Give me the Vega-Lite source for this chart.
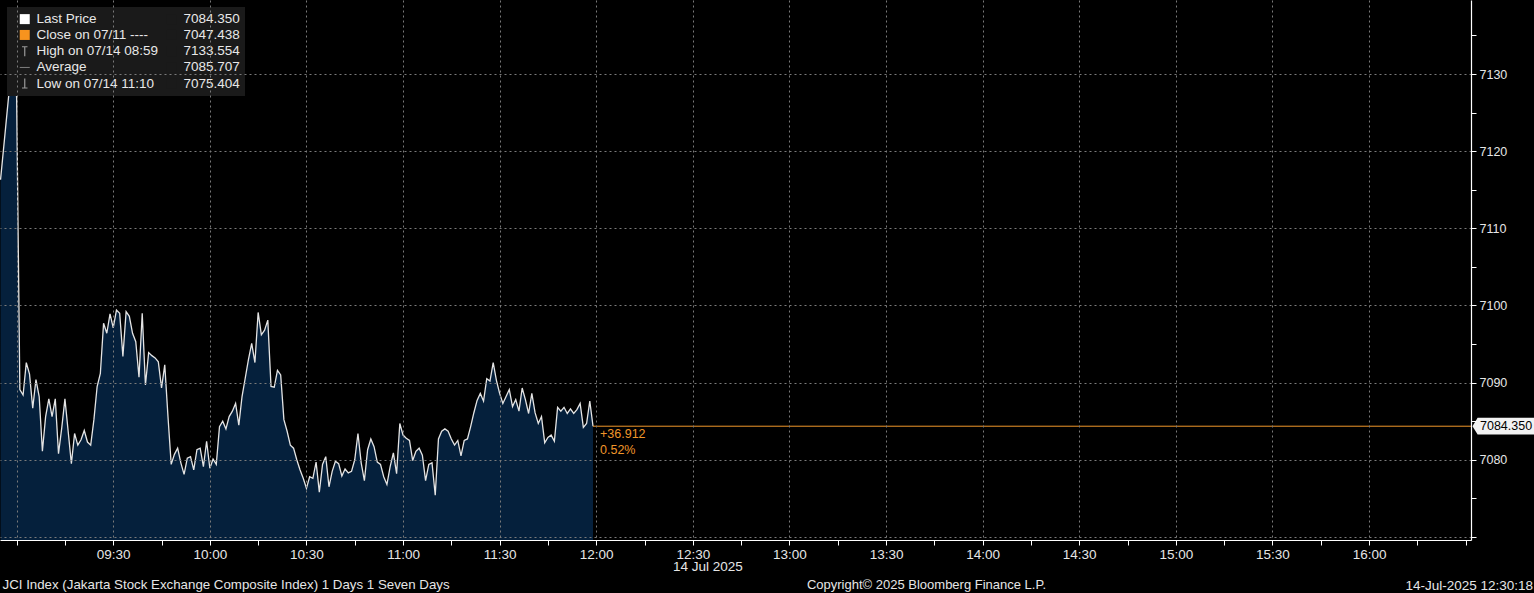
{
  "$schema": "https://vega.github.io/schema/vega-lite/v6.json",
  "width": 1471,
  "height": 540,
  "autosize": {"type": "none"},
  "padding": {"left": 0, "top": 0, "right": 63, "bottom": 53},
  "background": "#000000",
  "config": {"view": {"stroke": null}, "font": "Liberation Sans"},
  "title": {"text": "14-Jul-2025 12:30:18", "orient": "bottom", "anchor": "end", "frame": "group", "align": "right", "baseline": "top", "offset": 0, "dx": 62, "dy": -12, "color": "#e6e6e6", "fontSize": 13.5, "fontWeight": "normal", "font": "Liberation Sans"},
  "datasets": {"px": [
    {"t": "2025-07-14T08:55", "v": 7116.3}, {"t": "2025-07-14T08:56", "v": 7120.6}, {"t": "2025-07-14T08:57", "v": 7124.9}, {"t": "2025-07-14T08:58", "v": 7129.2}, {"t": "2025-07-14T08:59", "v": 7133.554}, {"t": "2025-07-14T09:00", "v": 7126.9},
    {"t": "2025-07-14T09:01", "v": 7089.1}, {"t": "2025-07-14T09:02", "v": 7088.4}, {"t": "2025-07-14T09:03", "v": 7092.6}, {"t": "2025-07-14T09:04", "v": 7091.1}, {"t": "2025-07-14T09:05", "v": 7086.7}, {"t": "2025-07-14T09:06", "v": 7090.4}, {"t": "2025-07-14T09:07", "v": 7088.2}, {"t": "2025-07-14T09:08", "v": 7081.1}, {"t": "2025-07-14T09:09", "v": 7085.6}, {"t": "2025-07-14T09:10", "v": 7087.9},
    {"t": "2025-07-14T09:11", "v": 7085.6}, {"t": "2025-07-14T09:12", "v": 7087.9}, {"t": "2025-07-14T09:13", "v": 7080.8}, {"t": "2025-07-14T09:14", "v": 7084.1}, {"t": "2025-07-14T09:15", "v": 7087.9}, {"t": "2025-07-14T09:16", "v": 7083.7}, {"t": "2025-07-14T09:17", "v": 7079.5}, {"t": "2025-07-14T09:18", "v": 7083.4}, {"t": "2025-07-14T09:19", "v": 7081.9}, {"t": "2025-07-14T09:20", "v": 7082.6},
    {"t": "2025-07-14T09:21", "v": 7083.8}, {"t": "2025-07-14T09:22", "v": 7082.3}, {"t": "2025-07-14T09:23", "v": 7081.9}, {"t": "2025-07-14T09:24", "v": 7085.2}, {"t": "2025-07-14T09:25", "v": 7089.5}, {"t": "2025-07-14T09:26", "v": 7091.2}, {"t": "2025-07-14T09:27", "v": 7097.7}, {"t": "2025-07-14T09:28", "v": 7096.4}, {"t": "2025-07-14T09:29", "v": 7098.9}, {"t": "2025-07-14T09:30", "v": 7097.1},
    {"t": "2025-07-14T09:31", "v": 7099.4}, {"t": "2025-07-14T09:32", "v": 7099.0}, {"t": "2025-07-14T09:33", "v": 7093.4}, {"t": "2025-07-14T09:34", "v": 7099.2}, {"t": "2025-07-14T09:35", "v": 7098.6}, {"t": "2025-07-14T09:36", "v": 7096.4}, {"t": "2025-07-14T09:37", "v": 7095.3}, {"t": "2025-07-14T09:38", "v": 7090.7}, {"t": "2025-07-14T09:39", "v": 7099.0}, {"t": "2025-07-14T09:40", "v": 7089.7},
    {"t": "2025-07-14T09:41", "v": 7093.9}, {"t": "2025-07-14T09:42", "v": 7093.5}, {"t": "2025-07-14T09:43", "v": 7093.2}, {"t": "2025-07-14T09:44", "v": 7092.7}, {"t": "2025-07-14T09:45", "v": 7089.3}, {"t": "2025-07-14T09:46", "v": 7092.3}, {"t": "2025-07-14T09:47", "v": 7085.6}, {"t": "2025-07-14T09:48", "v": 7079.4}, {"t": "2025-07-14T09:49", "v": 7080.7}, {"t": "2025-07-14T09:50", "v": 7081.5},
    {"t": "2025-07-14T09:51", "v": 7079.6}, {"t": "2025-07-14T09:52", "v": 7078.1}, {"t": "2025-07-14T09:53", "v": 7080.2}, {"t": "2025-07-14T09:54", "v": 7080.4}, {"t": "2025-07-14T09:55", "v": 7078.7}, {"t": "2025-07-14T09:56", "v": 7081.3}, {"t": "2025-07-14T09:57", "v": 7081.5}, {"t": "2025-07-14T09:58", "v": 7079.1}, {"t": "2025-07-14T09:59", "v": 7082.4}, {"t": "2025-07-14T10:00", "v": 7078.9},
    {"t": "2025-07-14T10:01", "v": 7080.1}, {"t": "2025-07-14T10:02", "v": 7079.4}, {"t": "2025-07-14T10:03", "v": 7084.3}, {"t": "2025-07-14T10:04", "v": 7085.0}, {"t": "2025-07-14T10:05", "v": 7084.0}, {"t": "2025-07-14T10:06", "v": 7085.6}, {"t": "2025-07-14T10:07", "v": 7086.3}, {"t": "2025-07-14T10:08", "v": 7087.3}, {"t": "2025-07-14T10:09", "v": 7084.5}, {"t": "2025-07-14T10:10", "v": 7088.2},
    {"t": "2025-07-14T10:11", "v": 7090.6}, {"t": "2025-07-14T10:12", "v": 7093.0}, {"t": "2025-07-14T10:13", "v": 7095.1}, {"t": "2025-07-14T10:14", "v": 7092.6}, {"t": "2025-07-14T10:15", "v": 7099.1}, {"t": "2025-07-14T10:16", "v": 7096.2}, {"t": "2025-07-14T10:17", "v": 7096.8}, {"t": "2025-07-14T10:18", "v": 7098.1}, {"t": "2025-07-14T10:19", "v": 7089.5}, {"t": "2025-07-14T10:20", "v": 7089.4},
    {"t": "2025-07-14T10:21", "v": 7091.6}, {"t": "2025-07-14T10:22", "v": 7091.0}, {"t": "2025-07-14T10:23", "v": 7085.2}, {"t": "2025-07-14T10:24", "v": 7083.7}, {"t": "2025-07-14T10:25", "v": 7081.9}, {"t": "2025-07-14T10:26", "v": 7081.5}, {"t": "2025-07-14T10:27", "v": 7080.0}, {"t": "2025-07-14T10:28", "v": 7078.7}, {"t": "2025-07-14T10:29", "v": 7077.6}, {"t": "2025-07-14T10:30", "v": 7076.3},
    {"t": "2025-07-14T10:31", "v": 7077.8}, {"t": "2025-07-14T10:32", "v": 7077.6}, {"t": "2025-07-14T10:33", "v": 7079.7}, {"t": "2025-07-14T10:34", "v": 7075.8}, {"t": "2025-07-14T10:35", "v": 7079.4}, {"t": "2025-07-14T10:36", "v": 7080.4}, {"t": "2025-07-14T10:37", "v": 7076.5}, {"t": "2025-07-14T10:38", "v": 7078.5}, {"t": "2025-07-14T10:39", "v": 7079.8}, {"t": "2025-07-14T10:40", "v": 7079.5},
    {"t": "2025-07-14T10:41", "v": 7077.9}, {"t": "2025-07-14T10:42", "v": 7078.8}, {"t": "2025-07-14T10:43", "v": 7078.3}, {"t": "2025-07-14T10:44", "v": 7078.5}, {"t": "2025-07-14T10:45", "v": 7080.0}, {"t": "2025-07-14T10:46", "v": 7083.4}, {"t": "2025-07-14T10:47", "v": 7079.6}, {"t": "2025-07-14T10:48", "v": 7077.3}, {"t": "2025-07-14T10:49", "v": 7081.3}, {"t": "2025-07-14T10:50", "v": 7082.7},
    {"t": "2025-07-14T10:51", "v": 7081.7}, {"t": "2025-07-14T10:52", "v": 7079.7}, {"t": "2025-07-14T10:53", "v": 7079.4}, {"t": "2025-07-14T10:54", "v": 7077.8}, {"t": "2025-07-14T10:55", "v": 7076.8}, {"t": "2025-07-14T10:56", "v": 7079.1}, {"t": "2025-07-14T10:57", "v": 7080.9}, {"t": "2025-07-14T10:58", "v": 7078.2}, {"t": "2025-07-14T10:59", "v": 7084.7}, {"t": "2025-07-14T11:00", "v": 7083.2},
    {"t": "2025-07-14T11:01", "v": 7082.8}, {"t": "2025-07-14T11:02", "v": 7082.5}, {"t": "2025-07-14T11:03", "v": 7079.9}, {"t": "2025-07-14T11:04", "v": 7081.1}, {"t": "2025-07-14T11:05", "v": 7081.5}, {"t": "2025-07-14T11:06", "v": 7080.6}, {"t": "2025-07-14T11:07", "v": 7077.3}, {"t": "2025-07-14T11:08", "v": 7079.4}, {"t": "2025-07-14T11:09", "v": 7079.6}, {"t": "2025-07-14T11:10", "v": 7075.404},
    {"t": "2025-07-14T11:11", "v": 7082.7}, {"t": "2025-07-14T11:12", "v": 7083.7}, {"t": "2025-07-14T11:13", "v": 7084.0}, {"t": "2025-07-14T11:14", "v": 7083.7}, {"t": "2025-07-14T11:15", "v": 7082.7}, {"t": "2025-07-14T11:16", "v": 7081.9}, {"t": "2025-07-14T11:17", "v": 7082.5}, {"t": "2025-07-14T11:18", "v": 7080.5}, {"t": "2025-07-14T11:19", "v": 7082.5}, {"t": "2025-07-14T11:20", "v": 7082.7},
    {"t": "2025-07-14T11:21", "v": 7084.3}, {"t": "2025-07-14T11:22", "v": 7086.1}, {"t": "2025-07-14T11:23", "v": 7087.7}, {"t": "2025-07-14T11:24", "v": 7088.6}, {"t": "2025-07-14T11:25", "v": 7087.6}, {"t": "2025-07-14T11:26", "v": 7090.5}, {"t": "2025-07-14T11:27", "v": 7090.2}, {"t": "2025-07-14T11:28", "v": 7092.6}, {"t": "2025-07-14T11:29", "v": 7090.3}, {"t": "2025-07-14T11:30", "v": 7088.6},
    {"t": "2025-07-14T11:31", "v": 7087.3}, {"t": "2025-07-14T11:32", "v": 7088.2}, {"t": "2025-07-14T11:33", "v": 7089.1}, {"t": "2025-07-14T11:34", "v": 7086.9}, {"t": "2025-07-14T11:35", "v": 7087.8}, {"t": "2025-07-14T11:36", "v": 7086.3}, {"t": "2025-07-14T11:37", "v": 7089.3}, {"t": "2025-07-14T11:38", "v": 7087.8}, {"t": "2025-07-14T11:39", "v": 7086.0}, {"t": "2025-07-14T11:40", "v": 7088.6},
    {"t": "2025-07-14T11:41", "v": 7086.1}, {"t": "2025-07-14T11:42", "v": 7084.7}, {"t": "2025-07-14T11:43", "v": 7085.6}, {"t": "2025-07-14T11:44", "v": 7082.2}, {"t": "2025-07-14T11:45", "v": 7082.9}, {"t": "2025-07-14T11:46", "v": 7083.2}, {"t": "2025-07-14T11:47", "v": 7082.4}, {"t": "2025-07-14T11:48", "v": 7086.8}, {"t": "2025-07-14T11:49", "v": 7086.3}, {"t": "2025-07-14T11:50", "v": 7086.8},
    {"t": "2025-07-14T11:51", "v": 7086.0}, {"t": "2025-07-14T11:52", "v": 7086.6}, {"t": "2025-07-14T11:53", "v": 7086.0}, {"t": "2025-07-14T11:54", "v": 7086.5}, {"t": "2025-07-14T11:55", "v": 7087.3}, {"t": "2025-07-14T11:56", "v": 7084.2}, {"t": "2025-07-14T11:57", "v": 7084.7}, {"t": "2025-07-14T11:58", "v": 7087.6}, {"t": "2025-07-14T11:59", "v": 7084.35}
  ]},
  "layer": [
    {
      "data": {"name": "px"},
      "mark": {"type": "area", "color": "#05203c", "clip": true},
      "encoding": {
        "x": {"field": "t", "type": "temporal",
          "scale": {"domain": [{"year": 2025, "month": 7, "date": 14, "hours": 8, "minutes": 54, "seconds": 50}, {"year": 2025, "month": 7, "date": 14, "hours": 16, "minutes": 31, "seconds": 40}]},
          "axis": {
            "values": [
              {"year": 2025, "month": 7, "date": 14, "hours": 9, "minutes": 0}, {"year": 2025, "month": 7, "date": 14, "hours": 9, "minutes": 15}, {"year": 2025, "month": 7, "date": 14, "hours": 9, "minutes": 30}, {"year": 2025, "month": 7, "date": 14, "hours": 9, "minutes": 45},
              {"year": 2025, "month": 7, "date": 14, "hours": 10, "minutes": 0}, {"year": 2025, "month": 7, "date": 14, "hours": 10, "minutes": 15}, {"year": 2025, "month": 7, "date": 14, "hours": 10, "minutes": 30}, {"year": 2025, "month": 7, "date": 14, "hours": 10, "minutes": 45},
              {"year": 2025, "month": 7, "date": 14, "hours": 11, "minutes": 0}, {"year": 2025, "month": 7, "date": 14, "hours": 11, "minutes": 15}, {"year": 2025, "month": 7, "date": 14, "hours": 11, "minutes": 30}, {"year": 2025, "month": 7, "date": 14, "hours": 11, "minutes": 45},
              {"year": 2025, "month": 7, "date": 14, "hours": 12, "minutes": 0}, {"year": 2025, "month": 7, "date": 14, "hours": 12, "minutes": 15}, {"year": 2025, "month": 7, "date": 14, "hours": 12, "minutes": 30}, {"year": 2025, "month": 7, "date": 14, "hours": 12, "minutes": 45},
              {"year": 2025, "month": 7, "date": 14, "hours": 13, "minutes": 0}, {"year": 2025, "month": 7, "date": 14, "hours": 13, "minutes": 15}, {"year": 2025, "month": 7, "date": 14, "hours": 13, "minutes": 30}, {"year": 2025, "month": 7, "date": 14, "hours": 13, "minutes": 45},
              {"year": 2025, "month": 7, "date": 14, "hours": 14, "minutes": 0}, {"year": 2025, "month": 7, "date": 14, "hours": 14, "minutes": 15}, {"year": 2025, "month": 7, "date": 14, "hours": 14, "minutes": 30}, {"year": 2025, "month": 7, "date": 14, "hours": 14, "minutes": 45},
              {"year": 2025, "month": 7, "date": 14, "hours": 15, "minutes": 0}, {"year": 2025, "month": 7, "date": 14, "hours": 15, "minutes": 15}, {"year": 2025, "month": 7, "date": 14, "hours": 15, "minutes": 30}, {"year": 2025, "month": 7, "date": 14, "hours": 15, "minutes": 45},
              {"year": 2025, "month": 7, "date": 14, "hours": 16, "minutes": 0}, {"year": 2025, "month": 7, "date": 14, "hours": 16, "minutes": 15}, {"year": 2025, "month": 7, "date": 14, "hours": 16, "minutes": 30}
            ],
            "format": "%H:%M",
            "labelExpr": "(minutes(datum.value) % 30 != 0 || (hours(datum.value) == 9 && minutes(datum.value) == 0) || (hours(datum.value) == 16 && minutes(datum.value) == 30)) ? '' : datum.label",
            "labelOverlap": false, "labelFlush": false, "labelColor": "#e6e6e6", "labelFontSize": 13.5, "labelPadding": 2, "labelFont": "Liberation Sans",
            "tickColor": "#ffffff", "tickSize": 5, "domainColor": "#ffffff", "domainWidth": 1.2,
            "grid": true, "gridColor": "#7a7a7a", "gridDash": [2, 3],
            "gridOpacity": {"condition": {"test": "minutes(datum.value) % 30 == 0 && (hours(datum.value) < 16 || minutes(datum.value) == 0)", "value": 1}, "value": 0},
            "title": "JCI Index (Jakarta Stock Exchange Composite Index) 1 Days 1 Seven Days",
            "titleX": 2, "titleY": 44, "titleAlign": "left", "titleAnchor": "start", "titleBaseline": "middle", "titleColor": "#e6e6e6", "titleFontSize": 13.3, "titleFontWeight": "normal", "titleFont": "Liberation Sans",
            "zindex": 1
          }
        },
        "y": {"field": "v", "type": "quantitative",
          "scale": {"domain": [7069.6, 7139.6], "zero": false, "nice": false},
          "axis": {
            "orient": "right",
            "values": [7070, 7075, 7080, 7085, 7090, 7095, 7100, 7105, 7110, 7115, 7120, 7125, 7130, 7135],
            "format": "d",
            "labelExpr": "(datum.value % 10 == 0 && datum.value > 7070) ? datum.label : ''",
            "labelOverlap": false, "labelFlush": false, "labelColor": "#e6e6e6", "labelFontSize": 12.5, "labelPadding": 3, "labelFont": "Liberation Sans",
            "tickColor": "#ffffff", "tickSize": 5,
            "domainColor": "#ffffff", "domainWidth": 1.2,
            "grid": true, "gridColor": "#7a7a7a", "gridDash": [2, 3],
            "gridOpacity": {"condition": {"test": "datum.value % 10 == 0", "value": 1}, "value": 0},
            "title": "Copyright\u00a9 2025 Bloomberg Finance L.P.",
            "titleAngle": 0, "titleX": -545, "titleY": 584, "titleAlign": "center", "titleBaseline": "middle", "titleColor": "#e6e6e6", "titleFontSize": 13, "titleFontWeight": "normal", "titleFont": "Liberation Sans",
            "zindex": 1
          }
        }
      }
    },
    {
      "data": {"name": "px"},
      "mark": {"type": "line", "color": "#e4e4e4", "strokeWidth": 1.3, "clip": true},
      "encoding": {
        "x": {"field": "t", "type": "temporal"},
        "y": {"field": "v", "type": "quantitative"}
      }
    },
    {
      "data": {"values": [{"t0": "2025-07-14T11:59", "t1": "2025-07-14T16:31:40", "last": 7084.35}]},
      "mark": {"type": "rule", "color": "#f0962a", "strokeWidth": 1},
      "encoding": {
        "x": {"field": "t0", "type": "temporal"},
        "x2": {"field": "t1"},
        "y": {"field": "last", "type": "quantitative"}
      }
    },
    {
      "data": {"values": [{"t0": "2025-07-14T11:59", "last": 7084.35, "chg": "+36.912", "pct": "0.52%"}]},
      "mark": {"type": "text", "color": "#f0962a", "align": "left", "baseline": "top", "dx": 7, "dy": 2, "fontSize": 12.5, "font": "Liberation Sans"},
      "encoding": {
        "x": {"field": "t0", "type": "temporal"},
        "y": {"field": "last", "type": "quantitative"},
        "text": {"field": "chg"}
      }
    },
    {
      "data": {"values": [{"t0": "2025-07-14T11:59", "last": 7084.35, "chg": "+36.912", "pct": "0.52%"}]},
      "mark": {"type": "text", "color": "#f0962a", "align": "left", "baseline": "top", "dx": 7, "dy": 18, "fontSize": 12.5, "font": "Liberation Sans"},
      "encoding": {
        "x": {"field": "t0", "type": "temporal"},
        "y": {"field": "last", "type": "quantitative"},
        "text": {"field": "pct"}
      }
    },
    {
      "data": {"values": [{"t1": "2025-07-14T16:31:40", "last": 7084.35, "lbl": "7084.350"}]},
      "mark": {"type": "point", "filled": true, "color": "#f2f2f2", "opacity": 1, "size": 3600, "shape": "M0.05,0L0.22,-0.28L2.2,-0.28L2.2,0.28L0.22,0.28Z"},
      "encoding": {
        "x": {"field": "t1", "type": "temporal"},
        "y": {"field": "last", "type": "quantitative"}
      }
    },
    {
      "data": {"values": [{"t1": "2025-07-14T16:31:40", "last": 7084.35, "lbl": "7084.350"}]},
      "mark": {"type": "text", "color": "#000000", "align": "left", "baseline": "middle", "dx": 9, "fontSize": 12.5, "font": "Liberation Sans"},
      "encoding": {
        "x": {"field": "t1", "type": "temporal"},
        "y": {"field": "last", "type": "quantitative"},
        "text": {"field": "lbl"}
      }
    },
    {
      "data": {"values": [{"t2": "2025-07-14T12:30", "lo": 7069.6, "d": "14 Jul 2025"}]},
      "mark": {"type": "text", "color": "#e6e6e6", "align": "center", "baseline": "top", "dy": 20, "dx": 15, "fontSize": 13.5, "font": "Liberation Sans"},
      "encoding": {
        "x": {"field": "t2", "type": "temporal"},
        "y": {"field": "lo", "type": "quantitative"},
        "text": {"field": "d"}
      }
    },
    {
      "data": {"values": [
        {"k": "Last Price"}, {"k": "Close on 07/11 ----"}, {"k": "High on 07/14 08:59"}, {"k": "Average"}, {"k": "Low on 07/14 11:10"},
        {"k": "7084.350"}, {"k": "7047.438"}, {"k": "7133.554"}, {"k": "7085.707"}, {"k": "7075.404"}
      ]},
      "mark": {"type": "point", "filled": true, "clip": true, "opacity": 1},
      "encoding": {
        "x": {"datum": {"year": 2025, "month": 7, "date": 14, "hours": 8, "minutes": 0}, "type": "temporal"},
        "y": {"datum": 7100, "type": "quantitative"},
        "color": {"field": "k", "type": "nominal", "sort": null,
          "scale": {"domain": ["Last Price", "Close on 07/11 ----", "High on 07/14 08:59", "Average", "Low on 07/14 11:10", "7084.350", "7047.438", "7133.554", "7085.707", "7075.404"],
                    "range": ["#ffffff", "#f7931e", "#9a9a9a", "#9a9a9a", "#9a9a9a", "#1a1a1a", "#1a1a1a", "#1a1a1a", "#1a1a1a", "#1a1a1a"]},
          "legend": {"orient": "top-left", "offset": 7, "title": null, "columns": 2, "fillColor": "#1a1a1a", "padding": 5,
                     "symbolSize": 100, "symbolOpacity": 1, "symbolStrokeWidth": 0, "symbolOffset": 6, "labelOffset": 5, "labelFont": "Liberation Sans", "labelFontSize": 13.5,
                     "labelColor": "#e8e8e8", "labelLimit": 400, "rowPadding": 1.2, "columnPadding": -17}
        },
        "shape": {"field": "k", "type": "nominal", "sort": null,
          "scale": {"domain": ["Last Price", "Close on 07/11 ----", "High on 07/14 08:59", "Average", "Low on 07/14 11:10", "7084.350", "7047.438", "7133.554", "7085.707", "7075.404"],
                    "range": ["square", "square", "M-0.55,-1H0.55V-0.8H0.12V1H-0.12V-0.8H-0.55Z", "M-1,-0.08H1V0.08H-1Z", "M-0.12,-1H0.12V0.8H0.55V1H-0.55V0.8H-0.12Z", "square", "square", "square", "square", "square"]}
        }
      }
    }
  ]
}
